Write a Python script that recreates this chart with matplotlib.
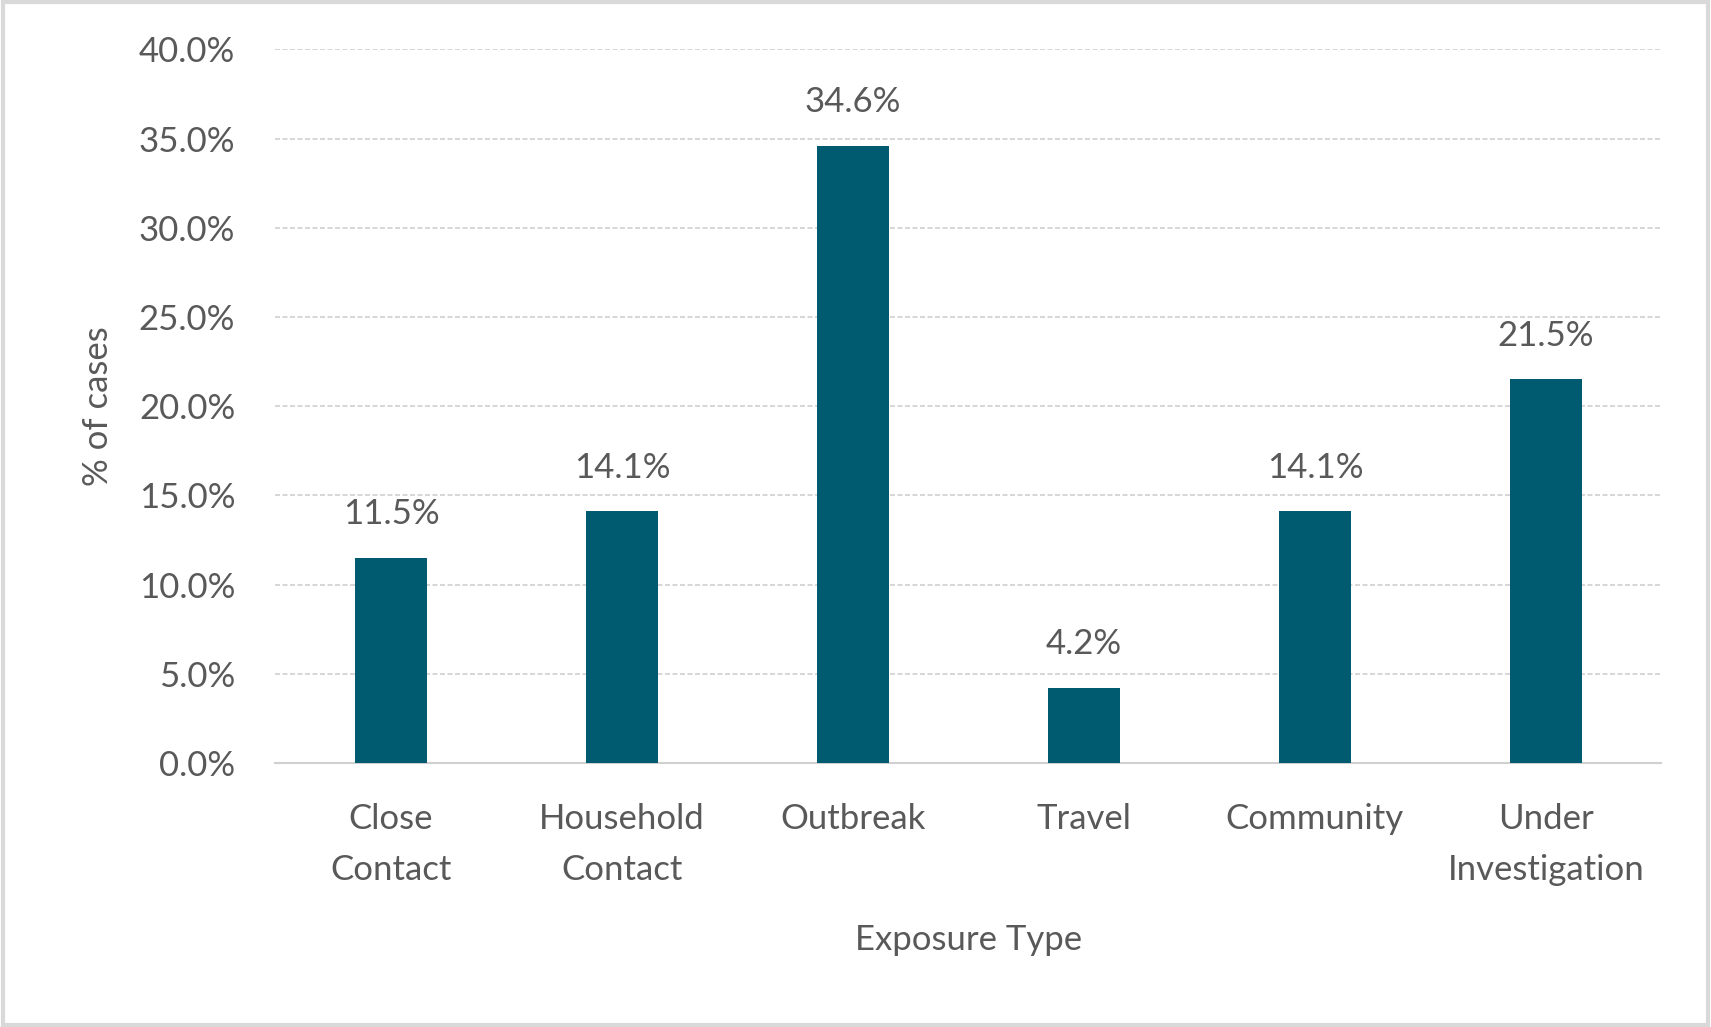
import matplotlib.pyplot as plt
from matplotlib.ticker import FuncFormatter
from matplotlib.patches import Rectangle

categories = ['Close\nContact', 'Household\nContact', 'Outbreak', 'Travel', 'Community', 'Under\nInvestigation']
pct_cases = [11.5, 14.1, 34.6, 4.2, 14.1, 21.5]
y_ticks = [0, 5, 10, 15, 20, 25, 30, 35, 40]

bar_color = '#005A70'
txt_color = '#595959'
plt.rcParams['font.family'] = ['Lato', 'DejaVu Sans']

fig = plt.figure(figsize=(17.11, 10.27), dpi=100)
ax = fig.add_axes([0.161, 0.257, 0.810, 0.695])

x = list(range(len(categories)))
bars = ax.bar(x, pct_cases, width=0.31, color=bar_color, zorder=3)
for b, v in zip(bars, pct_cases):
    ax.text(b.get_x() + b.get_width() / 2, v + 1.55, f'{v:.1f}%', ha='center', va='bottom',
            fontsize=25, color=txt_color)

ax.set_xlim(-0.5, len(categories) - 0.5)
ax.set_ylim(0, 40)
ax.set_yticks(y_ticks)
ax.yaxis.set_major_formatter(FuncFormatter(lambda v, p: f'{v:.1f}%'))
ax.grid(axis='y', color='#D0D0D0', linestyle=(0, (3, 1.5)), linewidth=1.2, zorder=0)
ax.set_xticks(x)
ax.set_xticklabels(categories, fontsize=25, color=txt_color, linespacing=1.7)
ax.tick_params(axis='y', labelsize=25, labelcolor=txt_color, length=0, pad=29)
ax.tick_params(axis='x', length=0, pad=29)
for s in ['top', 'right', 'left']:
    ax.spines[s].set_visible(False)
ax.spines['bottom'].set_color('#D0D0D0')
ax.spines['bottom'].set_linewidth(1.5)

ax.set_xlabel('Exposure Type', fontsize=25, color=txt_color, labelpad=28)
ax.set_ylabel('% of cases', fontsize=25, color=txt_color, labelpad=18)

fig.patches.append(Rectangle((0.002, 0.002), 0.996, 0.996, transform=fig.transFigure,
                             fill=False, edgecolor='#D9D9D9', linewidth=3))

fig.savefig('out.png', dpi=100)
